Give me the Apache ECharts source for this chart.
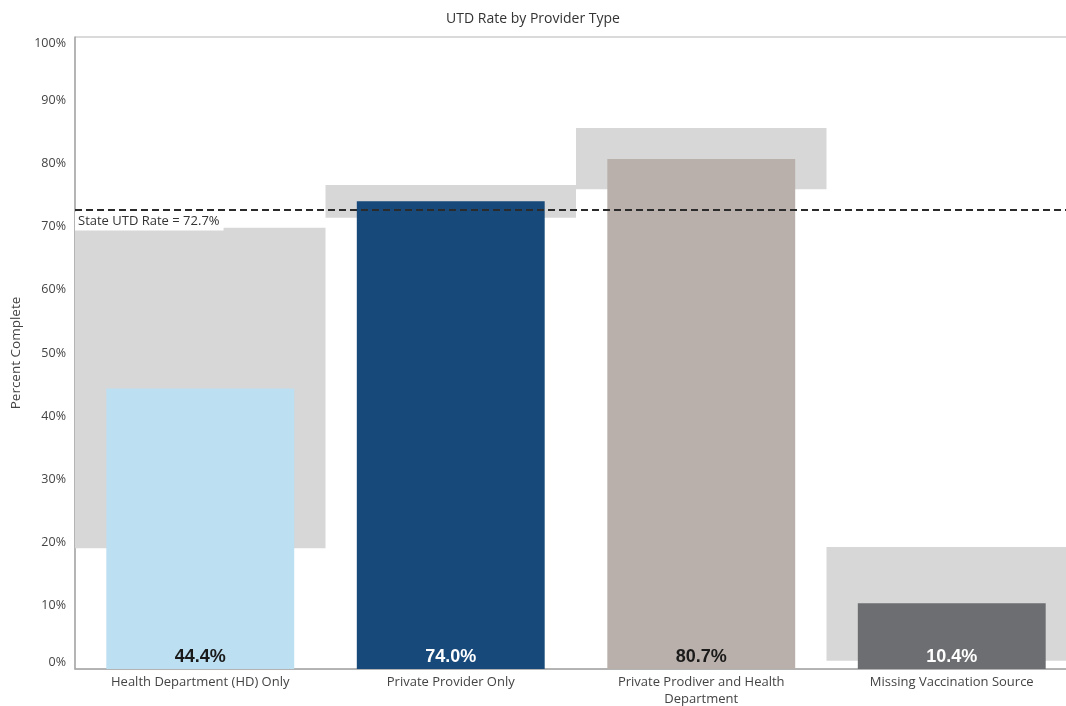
<!DOCTYPE html>
<html>
<head>
<meta charset="utf-8">
<script src="https://cdn.jsdelivr.net/npm/echarts@6/dist/echarts.min.js"></script>
<style>
html,body{margin:0;padding:0;background:#fff;}
#chart{width:1066px;height:706px;}
</style>
</head>
<body>
<div id="chart"></div>
<script>
var categories = ['Health Department (HD) Only', 'Private Provider Only', 'Private Prodiver and Health\nDepartment', 'Missing Vaccination Source'];
var utdRates = [44.4, 74.0, 80.7, 10.4];
var rangeLow = [19.1, 71.4, 75.9, 1.3];
var rangeHigh = [69.8, 76.6, 85.6, 19.3];
var barColors = ['#bcdff2', '#17497a', '#b9b0ab', '#6d6e71'];
var labelColors = ['#1a1a1a', '#ffffff', '#1a1a1a', '#ffffff'];
var stateRate = 72.7;
var yTicks = [0, 10, 20, 30, 40, 50, 60, 70, 80, 90, 100];

var chart = echarts.init(document.getElementById('chart'));
var fontFam = '"Open Sans", "Noto Sans", sans-serif';

var rangeData = categories.map(function (c, i) { return [i, rangeLow[i], rangeHigh[i]]; });
var barData = utdRates.map(function (v, i) {
  return {
    value: v,
    itemStyle: { color: barColors[i] },
    label: { color: labelColors[i] }
  };
});

chart.setOption({
  animation: false,
  title: {
    text: 'UTD Rate by Provider Type',
    left: 'center',
    top: 7,
    textStyle: { fontFamily: fontFam, fontSize: 14, fontWeight: 'normal', color: '#333' }
  },
  grid: {
    left: 75, right: -11, top: 37, bottom: 37,
    outerBoundsMode: 'none',
    containLabel: false,
    show: true, borderColor: '#b5b5b5', borderWidth: 1
  },
  xAxis: {
    type: 'category',
    data: categories,
    axisTick: { show: false },
    axisLine: { lineStyle: { color: '#a8a8a8', width: 1.5 } },
    axisLabel: { fontFamily: fontFam, fontSize: 13, color: '#444', margin: 5, interval: 0, lineHeight: 17 }
  },
  yAxis: {
    type: 'value',
    min: 0, max: 100, interval: 10,
    name: 'Percent Complete',
    nameLocation: 'middle',
    nameGap: 52,
    nameTextStyle: { fontFamily: fontFam, fontSize: 13.5, color: '#444' },
    splitLine: { show: false },
    axisTick: { show: false },
    axisLine: { show: true, lineStyle: { color: '#a8a8a8', width: 1.5 } },
    axisLabel: {
      fontFamily: fontFam, fontSize: 12.5, color: '#444', margin: 9,
      verticalAlignMinLabel: 'bottom', verticalAlignMaxLabel: 'top',
      formatter: function (v) { return yTicks.indexOf(v) >= 0 ? v + '%' : ''; }
    }
  },
  series: [
    {
      type: 'custom',
      z: 1,
      data: rangeData,
      encode: { x: 0, y: [1, 2] },
      renderItem: function (params, api) {
        var idx = api.value(0);
        var lo = api.coord([idx, api.value(1)]);
        var hi = api.coord([idx, api.value(2)]);
        var bw = api.size([1, 0])[0];
        return {
          type: 'rect',
          shape: { x: lo[0] - bw / 2, y: hi[1], width: bw, height: lo[1] - hi[1] },
          style: { fill: '#d7d7d7' }
        };
      }
    },
    {
      type: 'bar',
      z: 2,
      barWidth: '75%',
      data: barData,
      label: {
        show: true,
        position: 'insideBottom',
        distance: 3,
        fontFamily: '"Liberation Sans", Arial, sans-serif',
        fontSize: 18,
        fontWeight: 'bold',
        formatter: function (p) { return p.value.toFixed(1) + '%'; }
      },
      markLine: {
        silent: true,
        symbol: 'none',
        z: 5,
        lineStyle: { color: '#2b2b2b', type: [7, 4], width: 2 },
        label: {
          show: true,
          position: 'insideStartBottom',
          distance: [0, 2],
          formatter: 'State UTD Rate = ' + stateRate + '%',
          fontFamily: fontFam,
          fontSize: 13,
          color: '#333',
          backgroundColor: '#ffffff',
          padding: [3, 4, 3, 3]
        },
        data: [{ yAxis: stateRate }]
      }
    }
  ]
});
</script>
</body>
</html>
